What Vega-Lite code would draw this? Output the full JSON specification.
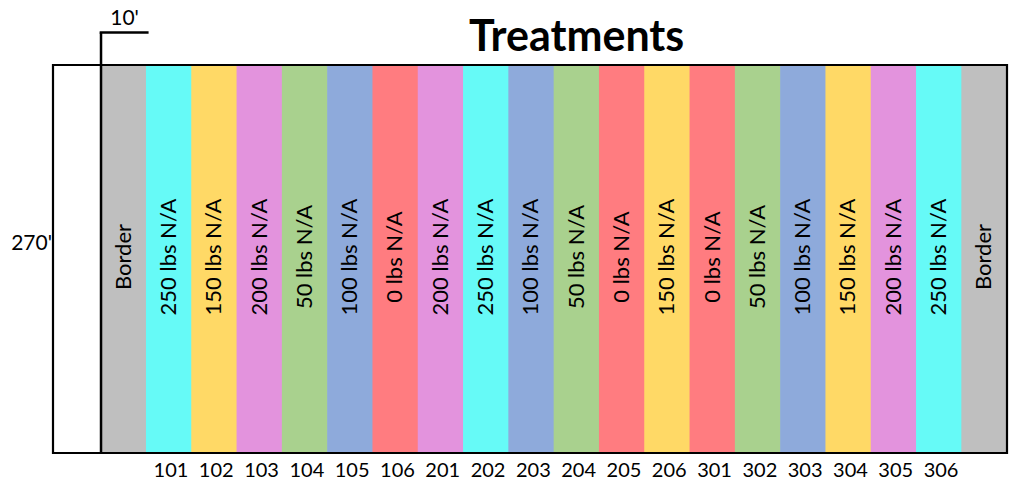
{
  "$schema": "https://vega.github.io/schema/vega-lite/v6.json",
  "width": 954,
  "height": 388,
  "autosize": {"type": "none"},
  "padding": {"left": 53, "top": 65, "right": 2, "bottom": 36},
  "background": "white",
  "config": {"view": {"stroke": null}, "text": {"font": "Lato", "color": "black"}},
  "data": {"values": [
    {"col": 1, "label": "Border", "treatment": "Border", "plot": ""},
    {"col": 2, "label": "250 lbs N/A", "treatment": "250", "plot": "101"},
    {"col": 3, "label": "150 lbs N/A", "treatment": "150", "plot": "102"},
    {"col": 4, "label": "200 lbs N/A", "treatment": "200", "plot": "103"},
    {"col": 5, "label": "50 lbs N/A", "treatment": "50", "plot": "104"},
    {"col": 6, "label": "100 lbs N/A", "treatment": "100", "plot": "105"},
    {"col": 7, "label": "0 lbs N/A", "treatment": "0", "plot": "106"},
    {"col": 8, "label": "200 lbs N/A", "treatment": "200", "plot": "201"},
    {"col": 9, "label": "250 lbs N/A", "treatment": "250", "plot": "202"},
    {"col": 10, "label": "100 lbs N/A", "treatment": "100", "plot": "203"},
    {"col": 11, "label": "50 lbs N/A", "treatment": "50", "plot": "204"},
    {"col": 12, "label": "0 lbs N/A", "treatment": "0", "plot": "205"},
    {"col": 13, "label": "150 lbs N/A", "treatment": "150", "plot": "206"},
    {"col": 14, "label": "0 lbs N/A", "treatment": "0", "plot": "301"},
    {"col": 15, "label": "50 lbs N/A", "treatment": "50", "plot": "302"},
    {"col": 16, "label": "100 lbs N/A", "treatment": "100", "plot": "303"},
    {"col": 17, "label": "150 lbs N/A", "treatment": "150", "plot": "304"},
    {"col": 18, "label": "200 lbs N/A", "treatment": "200", "plot": "305"},
    {"col": 19, "label": "250 lbs N/A", "treatment": "250", "plot": "306"},
    {"col": 20, "label": "Border", "treatment": "Border", "plot": ""}
  ]},
  "layer": [
    {
      "mark": {"type": "bar", "width": 46},
      "encoding": {
        "x": {"field": "col", "type": "quantitative", "scale": {"domain": [-0.56, 20.5], "nice": false, "zero": false, "padding": 0}, "axis": null},
        "y": {"datum": 270, "type": "quantitative", "scale": {"domain": [0, 270], "nice": false, "zero": false, "padding": 0}, "axis": null},
        "y2": {"datum": 0},
        "color": {"field": "treatment", "type": "nominal", "legend": null,
          "scale": {"domain": ["Border", "0", "50", "100", "150", "200", "250"],
                    "range": ["#BFBFBF", "#FF7C80", "#A9D18E", "#8EAADB", "#FFD966", "#E393DD", "#66FAF7"]}}
      }
    },
    {
      "mark": {"type": "text", "angle": 270, "fontSize": 22, "align": "center", "baseline": "middle"},
      "encoding": {
        "x": {"field": "col", "type": "quantitative"},
        "y": {"datum": 136.4, "type": "quantitative"},
        "text": {"field": "label"}
      }
    },
    {
      "mark": {"type": "text", "fontSize": 20, "align": "center", "baseline": "middle", "dx": 2},
      "encoding": {
        "x": {"field": "col", "type": "quantitative"},
        "y": {"datum": -12.5, "type": "quantitative"},
        "text": {"field": "plot"}
      }
    },
    {
      "data": {"values": [{}]},
      "layer": [
        {
          "mark": {"type": "rule", "color": "black", "strokeWidth": 2.5},
          "encoding": {"x": {"datum": 0.5, "type": "quantitative"}, "y": {"datum": 0, "type": "quantitative"}, "y2": {"datum": 292.6}}
        },
        {
          "mark": {"type": "rule", "color": "black", "strokeWidth": 2.5},
          "encoding": {"x": {"datum": 0.47, "type": "quantitative"}, "x2": {"datum": 1.55}, "y": {"datum": 292.6, "type": "quantitative"}}
        },
        {
          "mark": {"type": "rect", "fillOpacity": 0, "stroke": "black", "strokeWidth": 2.2},
          "encoding": {"x": {"datum": -0.56, "type": "quantitative"}, "x2": {"datum": 20.5}, "y": {"datum": 0, "type": "quantitative"}, "y2": {"datum": 270}}
        },
        {
          "mark": {"type": "text", "fontSize": 21, "align": "center", "baseline": "middle", "text": "10'"},
          "encoding": {"x": {"datum": 1.02, "type": "quantitative"}, "y": {"datum": 302, "type": "quantitative"}}
        },
        {
          "mark": {"type": "text", "fontSize": 21, "align": "right", "baseline": "middle", "dx": -1, "text": "270'"},
          "encoding": {"x": {"datum": -0.56, "type": "quantitative"}, "y": {"datum": 145.4, "type": "quantitative"}}
        },
        {
          "mark": {"type": "text", "fontSize": 43, "fontWeight": "bold", "align": "center", "baseline": "alphabetic", "text": "Treatments"},
          "encoding": {"x": {"datum": 11.0, "type": "quantitative"}, "y": {"datum": 279.7, "type": "quantitative"}}
        }
      ]
    }
  ]
}
